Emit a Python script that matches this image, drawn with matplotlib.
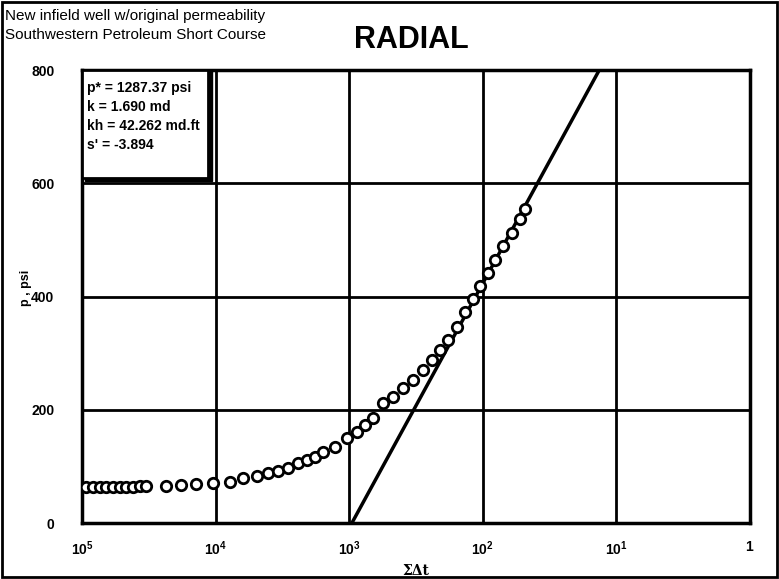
import numpy as np
import matplotlib
matplotlib.use("Agg")
import matplotlib.pyplot as plt
from matplotlib.patches import Rectangle

plt.rcParams['font.family'] = ['Liberation Sans', 'DejaVu Sans']
plt.rcParams['mathtext.fontset'] = 'custom'
plt.rcParams['mathtext.bf'] = 'Liberation Sans:bold'

# horner data: sum of delta t (log10) and pressure, psi
log_dt = [4.970, 4.918, 4.865, 4.820, 4.768, 4.716, 4.671, 4.618, 4.566, 4.521,
          4.371, 4.259, 4.147, 4.019, 3.892, 3.795, 3.690, 3.608, 3.533, 3.458,
          3.383, 3.316, 3.256, 3.196, 3.106, 3.016, 2.942, 2.882, 2.822, 2.747,
          2.672, 2.597, 2.522, 2.448, 2.380, 2.320, 2.260, 2.193, 2.133, 2.073,
          2.021, 1.961, 1.909, 1.849, 1.781, 1.722, 1.684]
p_psi = [64, 64, 64, 64, 64, 64, 64, 64, 65, 65,
         66, 67, 69, 71, 73, 80, 83, 88, 92, 97,
         106, 112, 117, 126, 135, 150, 161, 173, 186, 212,
         223, 239, 253, 271, 288, 306, 324, 347, 372, 395,
         418, 442, 465, 489, 513, 536, 554]

# straight line fit
p_star = 1287.37
slope_m = 432.0  # psi/cycle
line_p = np.array([0, 800])

xticks = [1e5, 1e4, 1e3, 1e2, 1e1, 1]
xticklabels = [r'$\mathbf{10^{5}}$', r'$\mathbf{10^{4}}$', r'$\mathbf{10^{3}}$',
               r'$\mathbf{10^{2}}$', r'$\mathbf{10^{1}}$', r'$\mathbf{1}$']
yticks = [0, 200, 400, 600, 800]

results = ["p* = 1287.37 psi", "k = 1.690 md", "kh = 42.262 md.ft", "s' = -3.894"]

fig = plt.figure(figsize=(7.79, 5.79), dpi=100)
ax = fig.add_axes([0.1053, 0.0967, 0.8575, 0.7824])

dt = 10 ** np.array(log_dt)
ax.plot(dt, p_psi, 'o', ms=7.5, mfc='white', mec='black', mew=2.0, zorder=4)

line_dt = 10 ** ((p_star - line_p) / slope_m)
ax.plot(line_dt, line_p, color='black', lw=2.5, zorder=3)

ax.set_xscale('log')
ax.set_xlim(1e5, 1)
ax.set_ylim(0, 800)
ax.set_xticks(xticks)
ax.set_xticklabels(xticklabels)
ax.xaxis.set_minor_locator(matplotlib.ticker.NullLocator())
ax.set_yticks(yticks)
ax.set_yticklabels([str(v) for v in yticks], fontweight='bold')
ax.tick_params(axis='x', length=0, pad=12, labelsize=10)
ax.tick_params(axis='y', length=0, pad=20, labelsize=10)
ax.grid(True, color='black', lw=2)
ax.set_axisbelow(True)
for s in ax.spines.values():
    s.set_linewidth(2.5)

ax.set_xlabel('ΣΔt', fontsize=10, fontweight='bold', family='DejaVu Serif', labelpad=4)
ax.set_ylabel('p , psi', fontsize=9, fontweight='bold')
ax.yaxis.set_label_coords(-0.075, 0.52)

# results box with shadow
ax.add_patch(Rectangle((0.004, 0.755), 0.19, 0.245, transform=ax.transAxes,
                       facecolor='black', edgecolor='black', zorder=5, clip_on=False))
ax.add_patch(Rectangle((0, 0.762), 0.188, 0.238, transform=ax.transAxes,
                       facecolor='white', edgecolor='black', lw=2, zorder=6, clip_on=False))
ax.text(0.008, 0.975, "\n".join(results), transform=ax.transAxes, va='top', ha='left',
        fontsize=10, fontweight='bold', linespacing=1.45, zorder=7)

fig.text(0.007, 0.985, "New infield well w/original permeability", fontsize=11, va='top')
fig.text(0.007, 0.952, "Southwestern Petroleum Short Course", fontsize=11, va='top')
fig.text(0.528, 0.957, "RADIAL", fontsize=22, fontweight='bold', ha='center', va='top')

fig.add_artist(Rectangle((0.003, 0.003), 0.994, 0.994, transform=fig.transFigure,
                         fill=False, edgecolor='black', lw=2))

fig.savefig('out.png', dpi=100)
